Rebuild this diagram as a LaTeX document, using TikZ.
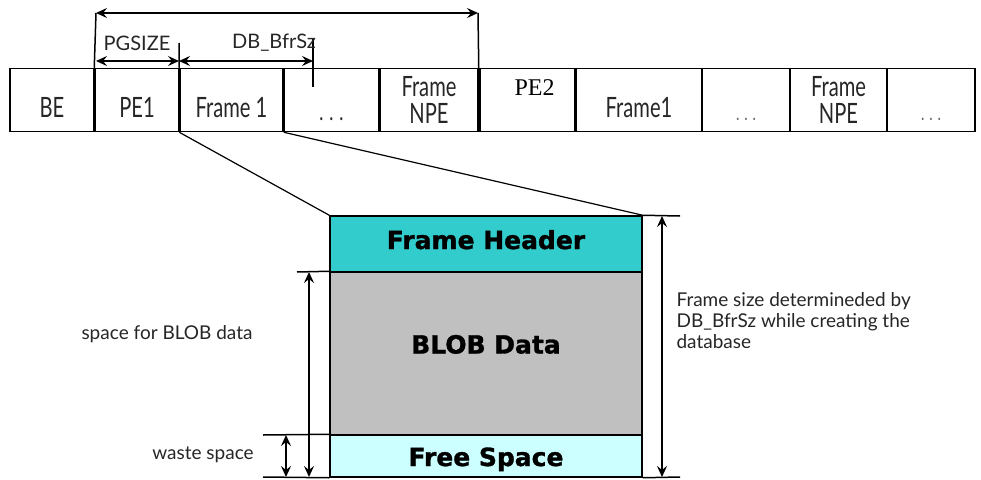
\documentclass[tikz,border=0pt]{standalone}
\usepackage{fontspec}
\setmainfont{Lato}
\newfontfamily\cellfont[FakeStretch=0.72]{Lato}
\newfontfamily\heavyfont[BoldFeatures={FakeBold=1.2}]{DejaVu Sans}
\newfontfamily\timesfont{Liberation Serif}
\usetikzlibrary{arrows.meta}

\definecolor{hdrcol}{HTML}{33CCCC}
\definecolor{blobcol}{HTML}{C0C0C0}
\definecolor{freecol}{HTML}{CCFFFF}

\tikzset{
  cell/.style = {draw = black, line width=1.5pt, rectangle, minimum height=63pt, inner sep=0pt,
                 align=center, text=black!85, font=\cellfont\fontsize{28}{27}\selectfont},
  low/.style = {text height=34pt, text depth=0pt},
  dots/.style = {text height=40pt, text depth=0pt, font=\cellfont\fontsize{24}{24}\selectfont},
  part/.style = {draw = black, line width=1.5pt, rectangle, minimum width=312pt, inner sep=0pt,
                 font=\heavyfont\bfseries\fontsize{25}{25}\selectfont},
  dim/.style = {line width=2pt, {Stealth[length=11pt,width=10pt,inset=4pt]}-{Stealth[length=11pt,width=10pt,inset=4pt]}},
  tick/.style = {line width=1.5pt},
  note/.style = {text=black!85, font=\fontsize{19}{21}\selectfont}
}

\begin{document}
\begin{tikzpicture}[x=1pt, y=-1pt]
  \useasboundingbox (0,0) rectangle (981,479);

  % page layout row
  \node (BE)   [cell, low, minimum width=84pt]  at (52,100)    {BE};
  \node (PEa)  [cell, low, minimum width=84pt]  at (137,100)   {PE1};
  \node (Fa)   [cell, low, minimum width=103pt] at (231.5,100) {Frame 1};
  \node (DTa)  [cell, dots, minimum width=95pt] at (331.5,100) {. . .};
  \node (NPEa) [cell, minimum width=98pt]       at (429,100)   {Frame\\NPE};
  \node (PEb)  [cell, minimum width=95pt, text height=0pt, text depth=10pt, text=black,
                font=\timesfont\fontsize{24}{24}\selectfont] at (527.5,100) {\hspace*{14pt}PE2};
  \node (Fb)   [cell, low, minimum width=126pt] at (639,100)   {Frame1};
  \node (DTb)  [cell, dots, minimum width=88pt, text=black!60,
                font=\cellfont\fontsize{20}{20}\selectfont] at (746,100) {. . .};
  \node (NPEb) [cell, minimum width=97pt]       at (838.5,100) {Frame\\NPE};
  \node (DTc)  [cell, dots, minimum width=88pt, text=black!60,
                font=\cellfont\fontsize{20}{20}\selectfont] at (931,100) {. . .};

  % sizes over the row
  \coordinate (topL) at (96,13);
  \coordinate (topR) at (478,13);
  \coordinate (pgL)  at (96,61);
  \coordinate (pgR)  at (179,61);
  \coordinate (dbR)  at (313,61);
  \coordinate (pgT)  at (179,43);
  \coordinate (dbT)  at (313,39);
  \coordinate (dbB)  at (313,87);

  \draw[dim] (topL) -- (topR);
  \draw[tick] (topL) -- (PEa.north west);
  \draw[tick] (topR) -- (NPEa.north east);
  \draw[dim] (pgL) -- (pgR);
  \draw[dim] (pgR) -- (dbR);
  \draw[tick] (pgT) -- (Fa.north west);
  \draw[tick] (dbT) -- (dbB);

  \node (pgsize) [note, font=\fontsize{20}{20}\selectfont] at (137,43) {PGSIZE};
  \node (bfrsz)  [note, font=\fontsize{20}{20}\selectfont] at (274,43) {DB\_BfrSz};

  % one frame
  \node (hdr)  [part, fill=hdrcol, minimum height=56pt, text height=10pt, text depth=0pt] at (486,244) {Frame Header};
  \node (blob) [part, fill=blobcol, minimum height=163pt, text height=0pt, text depth=0pt] at (486,353.5) {BLOB Data};
  \node (free) [part, fill=freecol, minimum height=42pt, text height=20pt, text depth=0pt] at (486,456) {Free Space};

  \draw[line width=1.2pt] (Fa.south west) -- (hdr.north west);
  \draw[line width=1.2pt] (Fa.south east) -- (hdr.north east);

  % frame size
  \coordinate (rsT) at (662,216);
  \coordinate (rsB) at (662,477);
  \coordinate (rxT) at (680,216);
  \coordinate (rxB) at (680,477);
  \draw[tick] (hdr.north east) -- (rxT);
  \draw[tick] (free.south east) -- (rxB);
  \draw[dim] (rsT) -- (rsB);
  \node (fsize) [note, anchor=north west, align=left] at (673,289)
        {Frame size determineded by\\DB\_BfrSz while creating the\\database};

  % blob space and waste
  \coordinate (bxT) at (297,272);
  \coordinate (wxT) at (263,435);
  \coordinate (wxB) at (263,477);
  \coordinate (baT) at (309,272);
  \coordinate (baB) at (309,477);
  \coordinate (waT) at (286,435);
  \coordinate (waB) at (286,477);
  \draw[tick] (bxT) -- (blob.north west);
  \draw[tick] (wxT) -- (free.north west);
  \draw[tick] (wxB) -- (free.south west);
  \draw[dim] (baT) -- (baB);
  \draw[dim] (waT) -- (waB);

  \node (spc)   [note] at (167,334) {space for BLOB data};
  \node (waste) [note] at (203,455) {waste space};
\end{tikzpicture}
\end{document}
